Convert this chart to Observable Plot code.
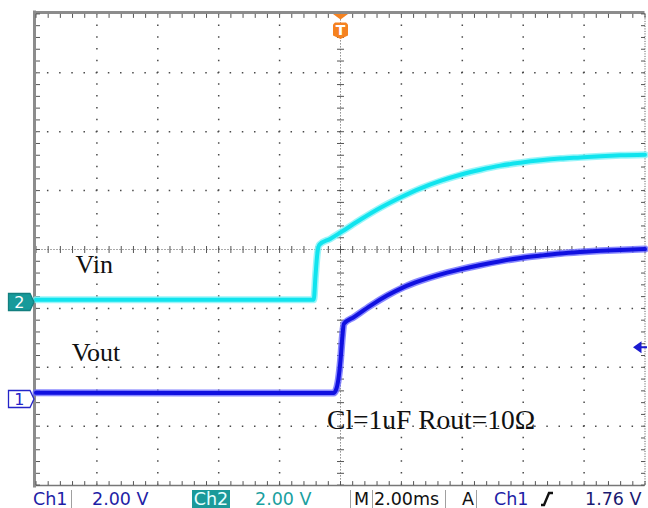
<!DOCTYPE html>
<html><head><meta charset="utf-8">
<script src="https://cdn.jsdelivr.net/npm/d3@7"></script>
<script src="https://cdn.jsdelivr.net/npm/@observablehq/plot@0.6"></script>
<style>
body{margin:0;background:#fff;}
#wrap{width:648px;height:508px;position:relative;overflow:hidden;background:#fff;}
#status{position:relative;width:648px;height:18px;font-family:"DejaVu Sans",sans-serif;font-size:17.5px;}
#status span{position:absolute;top:0;line-height:18px;white-space:nowrap;}
#status .sep{position:absolute;top:0;width:1px;height:18px;background:#a0a0a0;}
</style></head><body>
<div id="wrap"><div id="chart"></div><div id="status"></div></div>
<script>
// ---- data (time in ms, voltage in V) ----
const vinTime  = [-10, -0.88, -0.82, -0.76, -0.69, -0.33, 0, 0.66, 1.31, 1.97, 2.63, 3.28, 3.94, 4.60, 5.25, 5.91, 6.57, 7.22, 7.88, 8.54, 9.20, 10];
const vinVolts = [0.075, 0.075, 0.90, 1.65, 1.95, 2.15, 2.36, 2.80, 3.20, 3.55, 3.86, 4.11, 4.32, 4.49, 4.63, 4.73, 4.81, 4.87, 4.91, 4.95, 4.98, 5.00];
const voutTime  = [-10, -0.23, -0.13, 0, 0.06, 0.11, 0.44, 0.99, 1.53, 2.08, 2.63, 3.18, 3.94, 4.60, 5.25, 5.91, 6.57, 7.22, 7.88, 8.54, 9.20, 10];
const voutVolts = [0.21, 0.20, 0.36, 1.31, 2.10, 2.55, 2.78, 3.17, 3.51, 3.80, 4.02, 4.20, 4.40, 4.55, 4.68, 4.79, 4.87, 4.94, 4.99, 5.03, 5.06, 5.09];
const channelNames = ["1", "2"];
const channelPos = [-2.538, -0.891];   // ground marker position, divisions
const voltsPerDiv = [2, 2];
const msPerDiv = 2;
const triggerTime = 0;
const triggerLevel = 1.76;             // V on Ch1
const labels = ["Vin", "Vout", "Cl=1uF Rout=10Ω"];
const labelX = [-8.70, -8.83, -0.44];  // ms
const labelY = [-0.263, -1.757, -2.90]; // divisions
const statusItems = [
  {text:"Ch1", left:33, color:"#1e1ea6"},
  {text:"2.00 V", left:92, color:"#1e1ea6"},
  {text:"Ch2", left:192, color:"#e6ffff", bg:"#1a9a9a", w:38},
  {text:"2.00 V", left:255, color:"#1a9f9f"},
  {text:"M", left:354, color:"#111"},
  {text:"2.00ms", left:374, color:"#111"},
  {text:"A", left:462, color:"#111"},
  {text:"Ch1", left:494, color:"#1e1ea6"},
  {text:"1.76 V", left:585, color:"#1a1a70"}
];
const statusSeps = [71, 350, 372, 445, 476];

// ---- derived tables ----
const toDiv = (ch, v) => channelPos[ch] + v / voltsPerDiv[ch];
const vinData = vinTime.map((t, i) => ({t, y: toDiv(1, vinVolts[i])}));
const voutData = voutTime.map((t, i) => ({t, y: toDiv(0, voutVolts[i])}));
const xMin = -5 * msPerDiv, xMax = 5 * msPerDiv;
const majorX = d3.range(-4, 5).filter(k => k !== 0).map(k => k * msPerDiv);
const majorY = [-3, -2, -1, 1, 2, 3];
const minorX = d3.range(-25, 26).map(k => k * msPerDiv / 5);
const minorY = d3.range(-20, 21).map(k => k / 5);
const markers = channelNames.map((n, i) => ({n, y: channelPos[i], ch: i}));

const sym = f => ({draw(ctx){ f(ctx); }});
const hTick = sym(c => {c.moveTo(-3.5,0); c.lineTo(3.5,0);});
const vTick = sym(c => {c.moveTo(0,-3.5); c.lineTo(0,3.5);});
const tickR = sym(c => {c.moveTo(0,0); c.lineTo(4,0);});
const tickL = sym(c => {c.moveTo(0,0); c.lineTo(-4,0);});
const tickD = sym(c => {c.moveTo(0,0); c.lineTo(0,4);});
const tickU = sym(c => {c.moveTo(0,0); c.lineTo(0,-4);});
const chShape = sym(c => {c.moveTo(-27.5,-8.5); c.lineTo(-6,-8.5); c.lineTo(-2,0); c.lineTo(-6,8.5); c.lineTo(-27.5,8.5); c.closePath();});
const trigTri = sym(c => {c.moveTo(-7.5,0); c.lineTo(7.5,0); c.lineTo(0,5.5); c.closePath();});
const trigShield = sym(c => {c.moveTo(-5.5,8.5); c.lineTo(5.5,8.5); c.lineTo(7.5,10.5); c.lineTo(7.5,21.5); c.lineTo(0,25); c.lineTo(-7.5,21.5); c.lineTo(-7.5,10.5); c.closePath();});
const levelArrow = sym(c => {c.moveTo(-12,0); c.lineTo(-3.5,-6); c.lineTo(-3.5,6); c.closePath(); c.moveTo(-3.5,-1); c.lineTo(2,-1); c.lineTo(2,1); c.lineTo(-3.5,1); c.closePath();});

const W = 648, H = 490;
const chart = Plot.plot({
  width: W, height: H,
  marginLeft: 35.5, marginRight: 3.5, marginTop: 13.4, marginBottom: 5.4,
  x: {domain: [xMin, xMax], axis: null},
  y: {domain: [-4, 4], axis: null},
  style: {background: "#fff", overflow: "visible"},
  marks: [
    // dotted division grid
    Plot.ruleX(majorX, {stroke: "#4a4a4a", strokeWidth: 1.5, strokeDasharray: "1.5,10.28", strokeDashoffset: 0.75}),
    Plot.ruleY(majorY, {stroke: "#4a4a4a", strokeWidth: 1.5, strokeDasharray: "1.5,10.68", strokeDashoffset: 0.75}),
    // center cross
    Plot.ruleX([0], {stroke: "#555", strokeWidth: 1, strokeDasharray: "1,2"}),
    Plot.ruleY([0], {stroke: "#555", strokeWidth: 1, strokeDasharray: "1,2"}),
    Plot.dot(minorY, {x: 0, y: d => d, symbol: hTick, fill: "none", stroke: "#555", strokeWidth: 1}),
    Plot.dot(minorX, {x: d => d, y: 0, symbol: vTick, fill: "none", stroke: "#555", strokeWidth: 1}),
    // frame
    Plot.ruleX([xMax], {stroke: "#555", strokeWidth: 1, strokeDasharray: "1,1.5"}),
    Plot.ruleY([-4], {stroke: "#777", strokeWidth: 1.5, dy: 0.5}),
    Plot.ruleX([xMin], {stroke: "#8c8c8c", strokeWidth: 3, dx: -1.5, y1: -4.05, y2: 4.05}),
    Plot.ruleY([4], {stroke: "#8c8c8c", strokeWidth: 3, dy: -1.5, x1: xMin - 0.05, x2: xMax}),
    Plot.dot(minorY, {x: xMin, y: d => d, symbol: tickR, fill: "none", stroke: "#555", strokeWidth: 1}),
    Plot.dot(minorY, {x: xMax, y: d => d, symbol: tickL, fill: "none", stroke: "#555", strokeWidth: 1}),
    Plot.dot(minorX, {x: d => d, y: 4, symbol: tickD, fill: "none", stroke: "#555", strokeWidth: 1}),
    Plot.dot(minorX, {x: d => d, y: -4, symbol: tickU, fill: "none", stroke: "#555", strokeWidth: 1}),
    // traces
    Plot.line(vinData, {x: "t", y: "y", stroke: "#7ff2f8", strokeWidth: 7, curve: "monotone-x", strokeOpacity: 0.8}),
    Plot.line(vinData, {x: "t", y: "y", stroke: "#10e4ee", strokeWidth: 4, curve: "monotone-x"}),
    Plot.line(voutData, {x: "t", y: "y", stroke: "#6a6aff", strokeWidth: 7, curve: "monotone-x", strokeOpacity: 0.8}),
    Plot.line(voutData, {x: "t", y: "y", stroke: "#1010e0", strokeWidth: 4, curve: "monotone-x"}),
    // labels
    Plot.text(labels, {x: (d, i) => labelX[i], y: (d, i) => labelY[i], text: d => d, textAnchor: "start",
      fontFamily: "Liberation Serif", fontSize: (d, i) => i === 2 ? 27.5 : 26, fill: "#111"}),
    // channel ground markers
    Plot.dot(markers, {x: xMin, y: "y", symbol: chShape, fill: d => d.ch === 1 ? "#179a9a" : "#fff",
      stroke: d => d.ch === 1 ? "#137f7f" : "#2424c8", strokeWidth: 1.3}),
    Plot.text(markers, {x: xMin, y: "y", text: "n", dx: -16.7, dy: 0.5, fill: d => d.ch === 1 ? "#fff" : "#2424c8",
      fontFamily: "DejaVu Sans", fontWeight: d => d.ch === 1 ? "bold" : "normal", fontSize: 16}),
    // trigger position
    Plot.dot([triggerTime], {x: d => d, y: 4, symbol: trigTri, fill: "#f58220", stroke: "none"}),
    Plot.dot([triggerTime], {x: d => d, y: 4, symbol: trigShield, fill: "#f58220", stroke: "none"}),
    Plot.text([triggerTime], {x: d => d, y: 4, text: () => "T", dy: 17, fill: "#fff", fontWeight: "bold",
      fontFamily: "DejaVu Sans", fontSize: 14}),
    // trigger level
    Plot.dot([triggerLevel], {x: xMax, y: d => toDiv(0, d), symbol: levelArrow, fill: "#1a1ad0", stroke: "none"})
  ]
});
document.getElementById("chart").appendChild(chart);

// status bar
const status = document.getElementById("status");
statusSeps.forEach(x => { const s = document.createElement("div"); s.className = "sep"; s.style.left = x + "px"; status.appendChild(s); });
statusItems.forEach(it => {
  const s = document.createElement("span");
  s.textContent = it.text; s.style.left = it.left + "px"; s.style.color = it.color;
  if (it.bg) { s.style.background = it.bg; s.style.width = it.w + "px"; s.style.textAlign = "center"; }
  status.appendChild(s);
});
const edge = document.createElementNS("http://www.w3.org/2000/svg", "svg");
edge.setAttribute("width", 14); edge.setAttribute("height", 16);
edge.style.position = "absolute"; edge.style.left = "540px"; edge.style.top = "1px";
edge.innerHTML = '<polyline points="1,14 4,14 9,2 13,2" fill="none" stroke="#111" stroke-width="2.4"/>';
status.appendChild(edge);
</script>
</body></html>
